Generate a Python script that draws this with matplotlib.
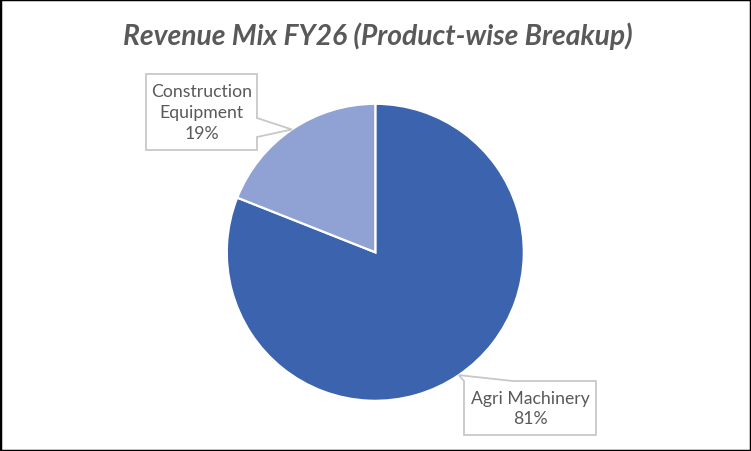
import numpy as np
import matplotlib.pyplot as plt
from matplotlib.patches import Polygon, Rectangle

# data
categories = ["Agri Machinery", "Construction Equipment"]
shares = [81, 19]
label_texts = ["Agri Machinery\n81%", "Construction\nEquipment\n19%"]
colors = ["#3C63AD", "#8FA2D3"]

title = "Revenue Mix FY26 (Product-wise Breakup)"
text_grey = "#595959"
box_grey = "#C8C8C8"

W, H = 751, 452
fig = plt.figure(figsize=(W / 100, H / 100), dpi=100)
ax = fig.add_axes([0, 0, 1, 1])

# pie centre / radius in pixel units (y up)
cx, cy, r = 375.3, H - 253.3, 148.5
wedges, _ = ax.pie(shares, colors=colors, startangle=90, counterclock=False,
                   center=(cx, cy), radius=r,
                   wedgeprops=dict(edgecolor="white", linewidth=1.6))
ax.set_xlim(0, W)
ax.set_ylim(0, H)
ax.set_aspect("auto")
ax.axis("off")

# callout boxes (left, top, right, bottom) in pixels from top
boxes = [(464, 382, 596, 436), (146, 75, 257, 151)]

for i, (w, lab) in enumerate(zip(wedges, label_texts)):
    mid = np.deg2rad((w.theta1 + w.theta2) / 2)
    tip = (cx + r * np.cos(mid), cy + r * np.sin(mid))
    x0, t, x1, b = boxes[i]
    yt, yb = H - t, H - b
    if i == 0:
        # pointer on the top edge, near left corner
        pts = [(x0, yt), tip, (x0 + 49, yt), (x1, yt), (x1, yb), (x0, yb)]
    else:
        # pointer on the right edge
        pts = [(x0, yt), (x1, yt), (x1, H - 119), tip, (x1, H - 138),
               (x1, yb), (x0, yb)]
    ax.add_patch(Polygon(pts, closed=True, facecolor="white",
                         edgecolor=box_grey, linewidth=1.3, zorder=3))
    ax.text((x0 + x1) / 2, (yt + yb) / 2, lab, ha="center", va="center",
            fontsize=12.7, family="Lato", color=text_grey, linespacing=1.35,
            zorder=4)

ax.text(W / 2 + 2, H - 36, title, ha="center", va="center", fontsize=20.3,
        family="Lato", weight="bold", style="italic", color=text_grey)

# outer border
fig.patches.append(Rectangle((0, 0), 1, 1, transform=fig.transFigure,
                             fill=False, edgecolor="black", linewidth=2.5))

fig.savefig("out.png", dpi=100)
